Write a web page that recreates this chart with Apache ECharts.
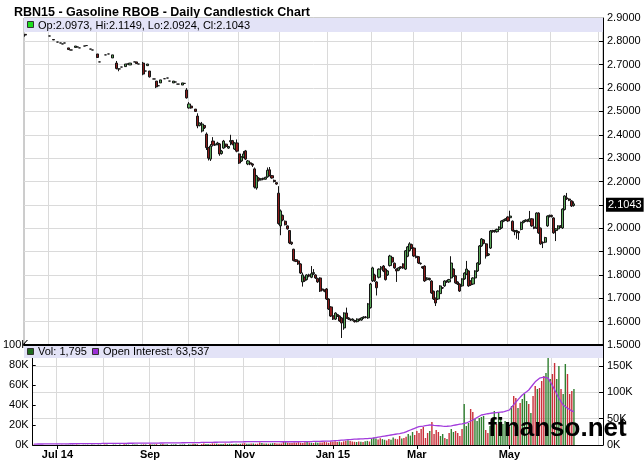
<!DOCTYPE html>
<html>
<head>
<meta charset="utf-8">
<title>RBN15 - Gasoline RBOB</title>
<script src="https://cdn.jsdelivr.net/npm/echarts@6.0.0/dist/echarts.min.js"></script>
<style>
  html, body { margin: 0; padding: 0; background: #fff; }
  #chart { width: 644px; height: 462px; }
</style>
</head>
<body>
<div id="chart"></div>
<script>
// trading days, Jun 16 2014 onward (weekends + exchange holidays skipped)
var holidays = ['2014-07-04', '2014-09-01', '2014-11-27', '2014-12-25', '2015-01-01',
                '2015-01-19', '2015-02-16', '2015-04-03', '2015-05-25'];
var dayCount = 265;

// x axis labels (first trading day of every other month)
var tickDates = ['2014-07-01', '2014-09-02', '2014-11-03', '2015-01-02', '2015-03-02', '2015-05-01'];
var tickTexts = ['Jul 14', 'Sep', 'Nov', 'Jan 15', 'Mar', 'May'];

// daily candles [open, close, low, high], '-' = no trade that day
var ohlc = [
  [2.830,2.827,2.820,2.832],'-','-','-','-','-','-','-','-','-','-',[2.823,2.823,2.823,2.823],
  '-',[2.808,2.806,2.806,2.810],'-',[2.797,2.797,2.797,2.797],[2.793,2.793,2.793,2.793],[2.789,2.789,2.789,2.789],
  [2.793,2.793,2.793,2.793],'-',[2.772,2.765,2.763,2.772],[2.763,2.763,2.763,2.763],'-',[2.774,2.780,2.774,2.780],
  [2.776,2.776,2.776,2.776],[2.772,2.772,2.772,2.772],'-',[2.780,2.780,2.780,2.780],[2.782,2.782,2.782,2.782],'-',
  [2.767,2.767,2.767,2.767],[2.763,2.763,2.763,2.763],'-',[2.746,2.731,2.729,2.746],[2.712,2.712,2.712,2.712],'-',
  '-',[2.742,2.742,2.742,2.742],[2.746,2.746,2.746,2.746],'-',[2.729,2.742,2.729,2.742],'-',
  [2.707,2.684,2.680,2.716],[2.682,2.682,2.672,2.682],[2.690,2.690,2.690,2.690],'-',[2.692,2.703,2.692,2.703],[2.703,2.703,2.703,2.703],
  [2.699,2.707,2.699,2.707],'-',[2.712,2.712,2.712,2.712],[2.712,2.705,2.705,2.712],[2.703,2.703,2.703,2.703],'-',
  [2.707,2.660,2.655,2.712],[2.673,2.673,2.673,2.673],[2.696,2.703,2.696,2.703],[2.673,2.648,2.645,2.673],'-',[2.639,2.639,2.639,2.639],
  [2.630,2.605,2.600,2.630],[2.610,2.610,2.610,2.610],[2.622,2.635,2.622,2.635],'-',[2.640,2.640,2.640,2.640],[2.643,2.643,2.643,2.643],
  [2.630,2.630,2.630,2.630],'-',[2.622,2.630,2.622,2.630],[2.626,2.626,2.626,2.626],[2.617,2.617,2.617,2.617],'-',
  [2.613,2.622,2.613,2.622],[2.620,2.620,2.620,2.620],[2.592,2.558,2.555,2.600],[2.515,2.532,2.512,2.540],[2.523,2.515,2.512,2.523],'-',
  [2.510,2.500,2.498,2.510],[2.480,2.438,2.428,2.492],[2.440,2.450,2.436,2.452],[2.416,2.446,2.410,2.455],[2.440,2.430,2.425,2.440],[2.403,2.345,2.335,2.410],
  [2.345,2.300,2.290,2.348],[2.296,2.352,2.288,2.360],[2.373,2.356,2.350,2.390],[2.356,2.360,2.352,2.365],[2.360,2.365,2.355,2.370],[2.361,2.318,2.310,2.365],
  [2.320,2.330,2.315,2.335],[2.343,2.373,2.340,2.378],[2.360,2.350,2.345,2.362],[2.343,2.350,2.340,2.352],[2.370,2.375,2.355,2.400],[2.375,2.360,2.355,2.378],
  [2.339,2.365,2.335,2.368],[2.365,2.330,2.325,2.380],[2.318,2.279,2.275,2.320],[2.288,2.305,2.284,2.308],[2.305,2.318,2.300,2.330],[2.331,2.296,2.292,2.335],
  [2.275,2.288,2.270,2.292],[2.280,2.275,2.270,2.282],[2.275,2.270,2.262,2.278],[2.254,2.176,2.170,2.260],[2.172,2.224,2.165,2.228],[2.215,2.205,2.200,2.218],
  [2.207,2.212,2.204,2.215],[2.214,2.210,2.206,2.216],[2.210,2.218,2.208,2.220],[2.220,2.248,2.216,2.260],[2.250,2.225,2.222,2.262],[2.225,2.215,2.212,2.228],
  [2.205,2.200,2.196,2.208],[2.195,2.189,2.186,2.196],[2.150,2.020,2.015,2.180],[2.010,2.074,1.970,2.080],[2.055,2.035,2.030,2.058],[2.030,2.015,2.012,2.033],
  [2.010,1.997,1.994,2.012],[1.990,1.937,1.932,1.992],[1.940,1.933,1.928,1.942],[1.910,1.862,1.858,1.912],[1.865,1.858,1.855,1.868],[1.860,1.847,1.843,1.862],
  [1.847,1.808,1.804,1.850],[1.770,1.800,1.750,1.810],[1.790,1.775,1.770,1.793],[1.780,1.800,1.776,1.803],[1.800,1.795,1.790,1.805],[1.790,1.805,1.786,1.838],
  [1.805,1.810,1.800,1.825],[1.800,1.787,1.783,1.803],[1.785,1.770,1.766,1.788],[1.787,1.731,1.727,1.790],[1.740,1.735,1.730,1.743],[1.735,1.730,1.726,1.738],
  [1.740,1.697,1.693,1.744],[1.697,1.654,1.650,1.700],[1.663,1.624,1.620,1.666],[1.625,1.611,1.607,1.628],[1.611,1.637,1.607,1.640],[1.630,1.624,1.620,1.633],
  [1.624,1.603,1.599,1.627],[1.616,1.594,1.530,1.620],[1.573,1.637,1.565,1.640],[1.637,1.616,1.612,1.660],[1.616,1.611,1.607,1.619],[1.610,1.607,1.603,1.613],
  [1.607,1.611,1.604,1.614],[1.605,1.600,1.596,1.608],[1.600,1.611,1.597,1.614],[1.611,1.607,1.603,1.614],[1.607,1.616,1.604,1.619],[1.616,1.620,1.612,1.623],
  [1.620,1.618,1.614,1.624],[1.616,1.676,1.612,1.680],[1.660,1.761,1.656,1.766],[1.775,1.830,1.770,1.835],[1.800,1.775,1.770,1.805],[1.770,1.745,1.712,1.773],
  [1.790,1.825,1.785,1.828],[1.825,1.833,1.820,1.838],[1.838,1.817,1.812,1.842],[1.825,1.780,1.776,1.828],[1.800,1.817,1.796,1.820],[1.840,1.881,1.836,1.886],
  [1.875,1.855,1.850,1.880],[1.850,1.830,1.826,1.853],[1.825,1.817,1.770,1.828],[1.820,1.830,1.816,1.833],[1.835,1.830,1.826,1.838],[1.847,1.830,1.826,1.850],
  [1.825,1.903,1.821,1.906],[1.880,1.920,1.876,1.924],[1.905,1.933,1.900,1.940],[1.930,1.915,1.911,1.934],[1.915,1.881,1.877,1.918],[1.880,1.875,1.871,1.883],
  [1.878,1.851,1.847,1.881],[1.850,1.848,1.844,1.853],[1.835,1.830,1.826,1.838],[1.838,1.774,1.770,1.841],[1.780,1.787,1.776,1.790],[1.785,1.780,1.776,1.788],
  [1.774,1.723,1.719,1.777],[1.730,1.697,1.693,1.733],[1.700,1.680,1.667,1.703],[1.697,1.731,1.693,1.734],[1.720,1.753,1.716,1.756],[1.745,1.744,1.740,1.748],
  [1.753,1.774,1.749,1.777],[1.774,1.770,1.766,1.777],[1.770,1.780,1.766,1.783],[1.787,1.851,1.783,1.880],[1.825,1.796,1.792,1.828],[1.796,1.766,1.762,1.799],
  [1.770,1.761,1.757,1.773],[1.761,1.731,1.727,1.764],[1.753,1.783,1.749,1.786],[1.783,1.808,1.779,1.811],[1.804,1.825,1.800,1.860],[1.817,1.753,1.749,1.820],
  [1.774,1.757,1.753,1.777],[1.761,1.787,1.757,1.790],[1.787,1.817,1.783,1.820],[1.817,1.851,1.813,1.854],[1.847,1.924,1.843,1.928],[1.924,1.954,1.920,1.958],
  [1.950,1.935,1.931,1.953],[1.933,1.881,1.870,1.936],[1.885,1.890,1.881,1.893],[1.915,1.988,1.911,1.992],[1.985,1.990,1.981,1.993],[1.990,1.985,1.981,1.993],
  [1.985,1.995,1.981,1.998],[1.995,2.005,1.991,2.008],[2.001,2.031,1.997,2.034],[2.030,2.035,2.026,2.038],[2.035,2.040,2.031,2.043],[2.048,2.031,2.027,2.051],
  [2.045,2.052,2.041,2.075],[2.030,1.990,1.986,2.033],[1.990,1.985,1.970,1.993],[1.985,1.990,1.955,1.993],[1.985,1.980,1.950,1.988],[1.995,2.025,1.991,2.028],
  [2.025,2.031,2.021,2.034],[2.031,2.035,2.027,2.038],[2.035,2.030,2.026,2.038],[2.030,2.040,2.026,2.074],[2.040,2.010,2.006,2.043],[2.005,2.000,1.996,2.008],
  [2.001,2.065,1.997,2.068],[2.065,1.980,1.976,2.068],[2.000,1.933,1.929,2.003],[1.940,1.937,1.915,1.943],[1.940,1.960,1.936,1.963],[2.010,2.052,2.006,2.055],
  [2.050,2.055,2.046,2.058],[2.055,2.050,2.046,2.058],[2.044,1.980,1.976,2.047],[1.990,1.997,1.945,2.000],[1.997,2.010,1.993,2.013],[2.010,2.005,2.001,2.013],
  [2.001,2.082,1.997,2.085],[2.080,2.138,2.076,2.141],[2.130,2.125,2.121,2.151],[2.125,2.120,2.116,2.128],[2.117,2.095,2.091,2.120],[2.0973,2.1043,2.0924,2.1149]
];

// daily volume, thousands of contracts
var volume = [
  0.3,0,0,0,0,0,0,0,0,0,0,0.2,  0,0.3,0,0.2,0.3,0.2,0.3,0,0.4,0.3,0,0.3,
  0.2,0.3,0,0.4,0.3,0,0.4,0.3,0,0.6,0.5,0,  0,0.4,0.3,0,0.5,0,0.8,0.6,0.4,0,0.5,0.4,
  0.5,0,0.4,0.6,0.5,0,0.9,0.6,0.5,0.8,0,0.7,  1.0,0.6,0.7,0,0.6,0.5,0.7,0,0.6,0.5,0.7,0,
  0.8,0.6,1.2,1.0,0.8,0,0.9,1.4,0.9,1.1,0.8,1.6,  1.4,1.3,1.1,0.9,1.0,1.5,1.0,1.2,1.0,0.9,1.3,1.1,
  1.2,1.5,1.8,1.3,1.2,1.6,1.4,1.2,1.3,2.4,2.0,1.6,  1.4,1.3,1.5,1.8,1.9,1.6,1.5,1.4,3.2,2.8,2.2,2.0,
  2.1,2.6,2.2,2.8,2.3,2.1,2.7,2.9,2.4,2.2,2.0,2.6,  2.3,2.4,2.6,3.4,2.8,2.2,3.6,3.2,3.8,3.0,3.4,2.8,
  3.6,4.2,4.8,3.9,3.4,3.2,3.0,3.6,3.3,2.9,3.8,4.1,  3.5,6.0,7.2,6.5,5.4,6.8,5.9,5.2,4.6,6.1,5.3,7.4,
  6.2,5.8,9.0,6.4,7.1,8.2,11,9.4,13,10,14,12,  16,18,7,12,14,23,11,15,13,9,11,7,
  6,12,16,13,14,12,9,16,41,19,22,36,  33,26,24,27,28,29,15,12,19,26,34,21,
  32,26,21,24,11,18,39,49,47,37,42,46,  51,44,41,32,49,59,56,57,64,69,72,96,
  66,71,82,66,79,56,51,81,71,51,54,56
];

// open interest, thousands of contracts
var openInterest = [
  1.8,1.8,1.9,1.9,1.9,2.0,2.0,2.0,2.1,2.1,2.1,2.2,  2.2,2.2,2.3,2.3,2.3,2.4,2.4,2.4,2.5,2.5,2.5,2.6,
  2.6,2.6,2.7,2.7,2.7,2.8,2.8,2.8,2.9,2.9,2.9,3.0,  3.0,3.0,3.1,3.1,3.1,3.2,3.2,3.2,3.3,3.3,3.3,3.4,
  3.4,3.4,3.5,3.5,3.5,3.6,3.6,3.6,3.7,3.7,3.7,3.8,  3.8,3.9,3.9,4.0,4.0,4.1,4.1,4.2,4.2,4.3,4.3,4.4,
  4.4,4.5,4.5,4.6,4.6,4.7,4.8,4.8,4.9,5.0,5.0,5.1,  5.2,5.2,5.3,5.4,5.4,5.5,5.6,5.6,5.7,5.8,5.8,5.9,
  6.0,6.1,6.2,6.3,6.3,6.3,6.4,6.4,6.4,6.4,6.5,6.5,  6.5,6.4,6.4,6.4,6.3,6.3,6.3,6.2,6.2,6.2,6.2,6.2,
  6.2,6.2,6.2,6.2,6.3,6.3,6.3,6.4,6.5,6.6,6.7,6.8,  6.9,7.0,7.1,7.2,7.3,7.5,7.6,7.9,8.2,8.5,8.8,9.1,
  9.4,9.8,10.1,10.4,10.8,11.0,11.2,11.4,11.6,11.8,12.0,12.2,  12.5,12.7,13.4,14.1,14.8,15.5,16.2,16.9,17.6,18.3,19.0,19.7,
  20.4,21.1,21.8,22.6,23.4,25.1,26.8,28.5,30.1,31.7,33.3,34.8,  35.4,36.0,36.7,37.4,38.0,37.7,37.3,37.0,36.6,36.2,35.8,35.5,
  35.6,35.8,36.4,37.2,38.0,38.8,39.6,40.3,41.1,41.8,43.7,45.6,  47.5,49.9,52.3,54.7,57.0,57.8,58.6,59.4,60.1,60.8,61.2,61.6,
  62.0,62.4,62.7,64.0,65.2,66.5,71.5,76.6,81.7,86.1,90.6,95.0,  98.2,101.3,104.5,109.7,114.9,120.0,123.5,127.0,128.0,129.0,128.0,127.0,
  120.0,113.0,105.0,97.0,89.0,82.5,76.0,73.0,70.0,67.3,64.6,63.537
];

var lastPrice = 2.1043;

var dates = [];
var d = new Date(Date.UTC(2014, 5, 16));
while (dates.length < dayCount) {
    var wd = d.getUTCDay();
    var s = d.toISOString().slice(0, 10);
    if (wd !== 0 && wd !== 6 && holidays.indexOf(s) < 0) dates.push(s);
    d.setUTCDate(d.getUTCDate() + 1);
}
// first trading day of each month -> vertical grid line
var monthStart = {};
for (var i = 1; i < dates.length; i++) {
    if (dates[i].slice(0, 7) !== dates[i - 1].slice(0, 7)) monthStart[i] = true;
}
function isTick(value) { return tickDates.indexOf(value) >= 0; }

var upColor = '#5aa85a', downColor = '#8e1b1b';
var volData = volume.map(function (v, i) {
    var c = ohlc[i];
    var up = c === '-' ? true : c[1] >= c[0];
    return { value: v, itemStyle: { color: up ? '#2f7f2f' : '#c8303a' } };
});

var font = "'Liberation Sans', Arial, sans-serif";
var gridColor = '#dadada';
var band = '#e3e3f7';

var myChart = echarts.init(document.getElementById('chart'), null, { renderer: 'canvas' });
var option = {
    animation: false,
    backgroundColor: '#fff',
    textStyle: { fontFamily: font },
    title: {
        text: 'RBN15 - Gasoline RBOB - Daily Candlestick Chart',
        left: 9, top: 1,
        textStyle: { fontSize: 12.5, fontWeight: 'bold', color: '#000', fontFamily: font }
    },
    grid: [
        { left: 24, right: 41, top: 18, height: 327, show: true, borderColor: '#9a9a9a', borderWidth: 1, backgroundColor: '#fff' },
        { left: 24, right: 41, top: 345, height: 100 }
    ],
    xAxis: [
        {
            type: 'category', gridIndex: 0, data: dates, boundaryGap: true,
            axisLine: { show: true, lineStyle: { color: '#000', width: 2 } },
            axisTick: { show: false }, axisLabel: { show: false },
            splitLine: { show: true, interval: function (idx) { return !!monthStart[idx]; }, lineStyle: { color: gridColor } }
        },
        {
            type: 'category', gridIndex: 1, data: dates, boundaryGap: true,
            axisLine: { show: true, lineStyle: { color: '#000', width: 1 } },
            axisTick: { show: true, alignWithLabel: true, length: 4, lineStyle: { color: '#000' },
                        interval: function (idx, value) { return isTick(value); } },
            axisLabel: {
                show: true, interval: function (idx, value) { return isTick(value); },
                formatter: function (value) { var k = tickDates.indexOf(value); return k >= 0 ? tickTexts[k] : ''; },
                fontSize: 11, fontWeight: 'bold', color: '#000', margin: 4, fontFamily: font
            },
            splitLine: { show: true, interval: function (idx) { return !!monthStart[idx]; }, lineStyle: { color: gridColor } }
        }
    ],
    yAxis: [
        {
            type: 'value', gridIndex: 0, position: 'right', min: 1.5, max: 2.9, interval: 0.1,
            axisLine: { show: true, lineStyle: { color: '#000' } },
            axisTick: { show: true, inside: true, length: 4, lineStyle: { color: '#000' } },
            axisLabel: { formatter: function (v) { return v.toFixed(4); }, fontSize: 11, color: '#000', margin: 4, fontFamily: font },
            splitLine: { show: true, lineStyle: { color: gridColor } }
        },
        {
            type: 'value', gridIndex: 1, position: 'left', min: 0, max: 100, interval: 20,
            axisLine: { show: true, lineStyle: { color: '#000' } },
            axisTick: { show: true, inside: true, length: 3, lineStyle: { color: '#000' } },
            axisLabel: { formatter: '{value}K', fontSize: 11, color: '#000', margin: 4, fontFamily: font },
            splitLine: { show: false }
        },
        {
            type: 'value', gridIndex: 1, position: 'right', min: 0, max: 190, interval: 50,
            axisLine: { show: true, lineStyle: { color: '#000' } },
            axisTick: { show: true, inside: true, length: 4, lineStyle: { color: '#000' } },
            axisLabel: {
                showMaxLabel: false,
                formatter: function (v) { return v % 50 === 0 ? v + 'K' : ''; },
                fontSize: 11, color: '#000', margin: 4, fontFamily: font
            },
            splitLine: { show: true, lineStyle: { color: gridColor } }
        }
    ],
    series: [
        {
            name: 'Price', type: 'candlestick', xAxisIndex: 0, yAxisIndex: 0,
            data: ohlc, barWidth: 2.6,
            itemStyle: { color: upColor, color0: downColor, borderColor: '#151515', borderColor0: '#151515', borderWidth: 1 },
            markLine: {
                silent: true, symbol: ['none', 'none'],
                data: [{ yAxis: lastPrice }],
                lineStyle: { color: 'rgba(0,0,0,0)', width: 1, type: 'solid' },
                label: {
                    show: true, position: 'end', distance: 3,
                    formatter: lastPrice.toFixed(4),
                    color: '#fff', backgroundColor: '#000', padding: [2, 2, 1, 2],
                    fontSize: 11, fontFamily: font
                },
                emphasis: { disabled: true }
            }
        },
        {
            name: 'Vol', type: 'bar', xAxisIndex: 1, yAxisIndex: 1,
            data: volData, barWidth: 1.4
        },
        {
            name: 'Open Interest', type: 'line', xAxisIndex: 1, yAxisIndex: 2,
            data: openInterest, showSymbol: false, symbol: 'none',
            lineStyle: { color: '#a23cdc', width: 1.3 }
        }
    ],
    graphic: [
        // price legend band
        { type: 'rect', z: 100, shape: { x: 24, y: 18, width: 579, height: 14 }, style: { fill: band } },
        { type: 'rect', z: 101, shape: { x: 27.5, y: 21.5, width: 6, height: 6 }, style: { fill: '#1ee01e', stroke: '#333', lineWidth: 1 } },
        { type: 'text', z: 101, x: 38, y: 25.5,
          style: { text: 'Op:2.0973, Hi:2.1149, Lo:2.0924, Cl:2.1043', fill: '#000', font: '11px ' + font, verticalAlign: 'middle' } },
        // volume legend band
        { type: 'rect', z: 100, shape: { x: 24, y: 346, width: 579, height: 12 }, style: { fill: band } },
        { type: 'rect', z: 101, shape: { x: 27.5, y: 348.5, width: 6, height: 6 }, style: { fill: '#1f6b1f', stroke: '#333', lineWidth: 1 } },
        { type: 'text', z: 101, x: 38, y: 352,
          style: { text: 'Vol: 1,795', fill: '#000', font: '11px ' + font, verticalAlign: 'middle' } },
        { type: 'rect', z: 101, shape: { x: 92.5, y: 348.5, width: 6, height: 6 }, style: { fill: '#9b2fd6', stroke: '#333', lineWidth: 1 } },
        { type: 'text', z: 101, x: 103, y: 352,
          style: { text: 'Open Interest: 63,537', fill: '#000', font: '11px ' + font, verticalAlign: 'middle' } },
        // watermark
        { type: 'text', z: 110, x: 488, y: 442,
          style: { text: 'finanso.net', fill: '#000', font: 'bold 26px ' + font, verticalAlign: 'bottom' } }
    ]
};
myChart.setOption(option);
</script>
</body>
</html>
